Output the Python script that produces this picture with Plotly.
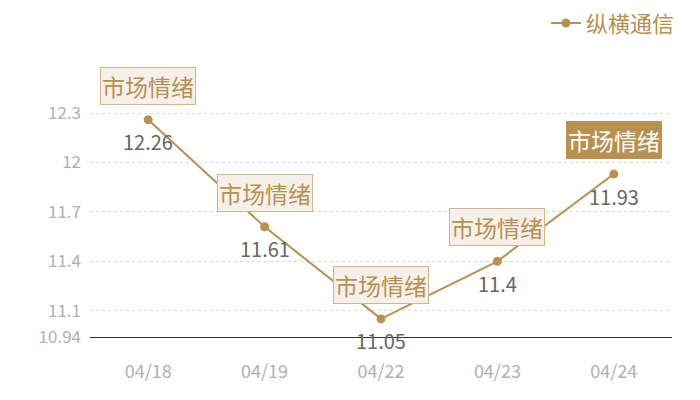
import plotly.graph_objects as go

dates = ["04/18", "04/19", "04/22", "04/23", "04/24"]
values = [12.26, 11.61, 11.05, 11.4, 11.93]
value_labels = ["12.26", "11.61", "11.05", "11.4", "11.93"]
mood_labels = ["市场情绪", "市场情绪", "市场情绪", "市场情绪", "市场情绪"]
y_ticks = [10.94, 11.1, 11.4, 11.7, 12, 12.3, 12.378]
y_ticktext = ["10.94", "11.1", "11.4", "11.7", "12", "12.3", ""]

gold = "#b8904f"
font = "Noto Sans CJK SC"

fig = go.Figure()

fig.add_trace(
    go.Scatter(
        x=dates,
        y=values,
        name="纵横通信",
        mode="lines+markers",
        line=dict(color=gold, width=2),
        marker=dict(color=gold, size=9),
    )
)

# value labels under the points
for d, v, t in zip(dates, values, value_labels):
    fig.add_annotation(
        x=d, y=v, text=t,
        showarrow=False,
        yshift=-22,
        font=dict(size=20, family=font, color="#666666"),
    )

# "市场情绪" boxes above the points
for i, (d, v, t) in enumerate(zip(dates, values, mood_labels)):
    last = i == len(dates) - 1
    fig.add_annotation(
        x=d, y=v, text=t,
        showarrow=False,
        yshift=34,
        font=dict(size=23, family=font, color="white" if last else gold),
        bgcolor=gold if last else "#f5f0ea",
        bordercolor=gold if last else "#d2b48a",
        borderwidth=1,
        borderpad=1,
    )

# page body adds 8px offset, so margins are shifted to compensate
fig.update_layout(
    width=700, height=400,
    margin=dict(l=82, r=36, t=92, b=71, autoexpand=False),
    plot_bgcolor="white",
    paper_bgcolor="white",
    font=dict(family=font),
    showlegend=True,
    legend=dict(
        x=0.96, xref="container", xanchor="right",
        y=0.962, yref="container", yanchor="middle",
        font=dict(size=22, color=gold, family=font),
        bgcolor="rgba(0,0,0,0)",
    ),
)

fig.update_xaxes(
    type="category",
    range=[-0.5, 4.5],
    showgrid=False,
    showline=True, linecolor="#333333", linewidth=1,
    ticks="",
    ticklabelstandoff=18,
    automargin=False,
    tickfont=dict(size=18, color="#b0b0b0", family=font),
)

fig.update_yaxes(
    range=[10.94, 12.38],
    tickvals=y_ticks,
    ticktext=y_ticktext,
    showgrid=True, gridcolor="#d8d8d8", griddash="dot", gridwidth=1,
    zeroline=False,
    showline=False,
    ticks="",
    ticklabelstandoff=8,
    automargin=False,
    tickfont=dict(size=17, color="#b0b0b0", family=font),
)

fig.write_html("out.html")
